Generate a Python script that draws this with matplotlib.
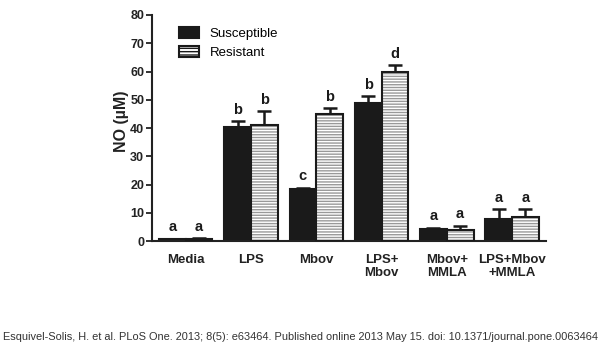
import numpy as np
import matplotlib
matplotlib.use("Agg")
import matplotlib.pyplot as plt
from matplotlib.patches import Patch

plt.rcParams['font.family'] = ['Liberation Sans', 'DejaVu Sans']
plt.rcParams['hatch.linewidth'] = 1.0

groups = ["Media", "LPS", "Mbov", "LPS+\nMbov", "Mbov+\nMMLA", "LPS+Mbov\n+MMLA"]
susceptible = [0.7, 40.5, 18.3, 48.7, 4.2, 8.0]
susceptible_err = [0.2, 2.0, 0.6, 2.5, 0.6, 3.2]
resistant = [0.8, 41.0, 45.0, 60.0, 3.9, 8.4]
resistant_err = [0.2, 5.0, 2.0, 2.2, 1.6, 3.0]
letters_s = ["a", "b", "c", "b", "a", "a"]
letters_r = ["a", "b", "b", "d", "a", "a"]

fig = plt.figure(figsize=(6, 3.48), dpi=100)
ax = fig.add_axes([0.253, 0.307, 0.657, 0.65])

x = np.arange(len(groups))
w = 0.41

# susceptible: solid black
ax.bar(x - w/2, susceptible, w, color='#1a1a1a', edgecolor='#1a1a1a', linewidth=1.5, zorder=2)
ax.errorbar(x - w/2, susceptible, yerr=[np.zeros(len(x)), susceptible_err], fmt='none',
            ecolor='#1a1a1a', elinewidth=1.8, capsize=5, capthick=1.8, zorder=1)

# resistant: horizontal stripes
ax.bar(x + w/2, resistant, w, color='white', edgecolor='#999999', hatch='------', linewidth=0, zorder=2)
ax.bar(x + w/2, resistant, w, fill=False, edgecolor='#1a1a1a', linewidth=1.5, zorder=3)
ax.errorbar(x + w/2, resistant, yerr=[np.zeros(len(x)), resistant_err], fmt='none',
            ecolor='#1a1a1a', elinewidth=1.8, capsize=5, capthick=1.8, zorder=1)

for i in range(len(x)):
    ax.text(x[i] - w/2, susceptible[i] + susceptible_err[i] + 1.5, letters_s[i],
            ha='center', va='bottom', fontsize=10.5, fontweight='bold', color='#1a1a1a')
    ax.text(x[i] + w/2, resistant[i] + resistant_err[i] + 1.5, letters_r[i],
            ha='center', va='bottom', fontsize=10.5, fontweight='bold', color='#1a1a1a')

ax.set_xlim(-0.52, 5.52)
ax.set_ylim(0, 80)
ax.set_yticks(range(0, 81, 10))
ax.set_xticks(x)
ax.set_xticklabels(groups, fontsize=9.5, fontweight='bold', color='#222222', linespacing=1.1)
ax.tick_params(axis='x', length=0, pad=9)
ax.tick_params(axis='y', labelsize=9, length=4, width=1.3, color='#222222', labelcolor='#222222', pad=1.5)
for lab in ax.get_yticklabels():
    lab.set_fontweight('bold')
for s in ['top', 'right']:
    ax.spines[s].set_visible(False)
for s in ['left', 'bottom']:
    ax.spines[s].set_linewidth(1.5)
    ax.spines[s].set_color('#222222')
ax.set_ylabel('NO (µM)', fontsize=11.5, fontweight='bold', color='#222222')
ax.yaxis.set_label_coords(-0.058, 0.53)

handles = [Patch(facecolor='#1a1a1a', edgecolor='#1a1a1a', linewidth=1.5),
           Patch(facecolor='white', edgecolor='#1a1a1a', hatch='-----', linewidth=1.5)]
ax.legend(handles, ['Susceptible', 'Resistant'], loc='upper left', bbox_to_anchor=(0.04, 1.0),
          frameon=False, fontsize=9.5, handlelength=1.5, handleheight=0.9, labelspacing=0.45,
          handletextpad=0.8)

fig.text(0.005, 0.018, 'Esquivel-Solis, H. et al. PLoS One. 2013; 8(5): e63464. Published online 2013 May 15. doi: 10.1371/journal.pone.0063464',
         fontsize=7.9, color='#333333', ha='left', va='bottom')

fig.savefig('out.png', dpi=100)
